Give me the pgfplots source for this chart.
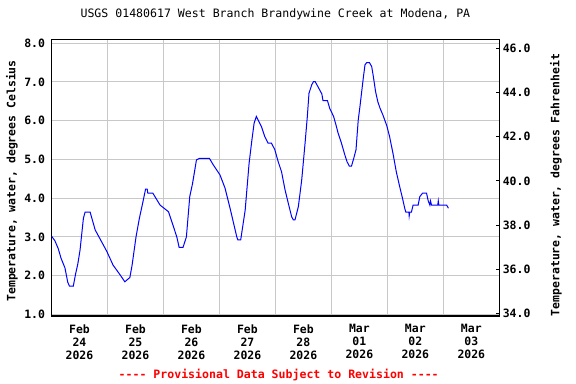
\documentclass[border=0pt]{standalone}
\usepackage{fontspec}
\setmainfont{DejaVu Sans Mono}
\usepackage{pgfplots}
\pgfplotsset{compat=1.18}
\definecolor{gridgray}{RGB}{200,200,200}
\begin{document}
\begin{tikzpicture}
\path[use as bounding box] (0,0) rectangle (576bp,384bp);
\begin{axis}[
  at={(51.5bp,68bp)}, anchor=south west,
  scale only axis, width=447.8bp, height=276.7bp,
  xmin=0, xmax=8, ymin=0.956, ymax=8.103,
  axis line style={line width=1.5bp, black},
  font=\fontsize{11.5}{13}\selectfont\bfseries,
  /pgf/number format/assume math mode=true,
  xtick={0.5,1.5,2.5,3.5,4.5,5.5,6.5,7.5},
  xticklabels={{Feb\\24\\2026},{Feb\\25\\2026},{Feb\\26\\2026},{Feb\\27\\2026},{Feb\\28\\2026},{Mar\\01\\2026},{Mar\\02\\2026},{Mar\\03\\2026}},
  xticklabel style={align=center, font=\fontsize{11.5}{13}\selectfont\bfseries, yshift=-5bp},
  minor xtick={1,2,3,4,5,6,7},
  xminorgrids=true,
  ytick={1,2,3,4,5,6,7,8},
  ymajorgrids=true,
  grid style={gridgray, line width=1bp},
  minor grid style={gridgray, line width=1bp},
  major tick length=0pt, minor tick length=0pt,
  yticklabel style={/pgf/number format/fixed, /pgf/number format/fixed zerofill, /pgf/number format/precision=1, font=\fontsize{11.5}{13}\selectfont\bfseries, xshift=-3bp},
  ylabel={Temperature, water, degrees Celsius},
  every axis y label/.style={at={(axis description cs:-0.0882,0.488)}, rotate=90, anchor=center, font=\fontsize{11.5}{13}\selectfont\bfseries},
  title={USGS 01480617 West Branch Brandywine Creek at Modena, PA},
  title style={at={(axis description cs:0.5,1.0698)}, anchor=center, font=\fontsize{11.6}{13}\selectfont\mdseries},
  clip=true,
]
\addplot[blue, line width=1bp] coordinates {
(0.00,3.02) (0.06,2.90) (0.12,2.70) (0.17,2.45) (0.24,2.20) (0.29,1.83) (0.32,1.73) (0.39,1.73)
(0.43,2.04) (0.47,2.30) (0.51,2.66) (0.57,3.48) (0.60,3.64) (0.69,3.64) (0.78,3.18) (0.87,2.94)
(0.99,2.62) (1.10,2.27) (1.22,2.03) (1.31,1.84) (1.40,1.95) (1.44,2.27) (1.51,3.00) (1.57,3.48)
(1.63,3.88) (1.68,4.23) (1.71,4.23) (1.72,4.13) (1.81,4.13) (1.94,3.82) (2.09,3.65) (2.18,3.26)
(2.24,2.99) (2.28,2.73) (2.35,2.73) (2.41,3.00) (2.47,4.04) (2.52,4.38) (2.59,4.99) (2.65,5.03)
(2.82,5.03) (2.89,4.86) (3.01,4.60) (3.10,4.26) (3.19,3.74) (3.31,3.00) (3.33,2.92) (3.38,2.92)
(3.46,3.69) (3.49,4.21) (3.53,4.90) (3.58,5.50) (3.62,5.94) (3.66,6.11) (3.75,5.85) (3.81,5.59)
(3.87,5.42) (3.93,5.42) (3.99,5.25) (4.05,4.94) (4.11,4.68) (4.17,4.23) (4.23,3.87) (4.29,3.52)
(4.32,3.44) (4.35,3.44) (4.41,3.78) (4.47,4.47) (4.53,5.42) (4.57,6.10) (4.60,6.71) (4.65,6.93)
(4.68,7.01) (4.71,7.01) (4.76,6.88) (4.83,6.69) (4.85,6.52) (4.93,6.52) (4.97,6.32) (5.04,6.11)
(5.09,5.85) (5.12,5.68) (5.18,5.42) (5.24,5.12) (5.28,4.94) (5.32,4.83) (5.36,4.83) (5.40,5.03)
(5.44,5.25) (5.48,6.02) (5.51,6.36) (5.57,7.10) (5.60,7.44) (5.63,7.50) (5.68,7.50) (5.72,7.40)
(5.75,7.14) (5.79,6.75) (5.83,6.49) (5.87,6.32) (5.92,6.15) (5.99,5.87) (6.04,5.59) (6.10,5.16)
(6.16,4.68) (6.22,4.30) (6.27,4.00) (6.31,3.74) (6.33,3.64) (6.385,3.64) (6.39,3.54) (6.40,3.64)
(6.43,3.64) (6.46,3.82) (6.55,3.82) (6.58,4.04) (6.63,4.13) (6.70,4.13) (6.73,3.93) (6.76,3.82)
(6.77,3.93) (6.79,3.82) (6.90,3.82) (6.91,3.93) (6.92,3.82) (7.06,3.82) (7.09,3.74)
};
\end{axis}
\begin{axis}[
  at={(51.5bp,68bp)}, anchor=south west,
  scale only axis, width=447.8bp, height=276.7bp,
  xmin=0, xmax=8, ymin=33.88, ymax=46.41,
  hide x axis,
  axis y line*=right,
  axis line style={line width=1.5bp, black},
  /pgf/number format/assume math mode=true,
  ytick={34,36,38,40,42,44,46},
  ytick align=inside,
  major tick length=3bp,
  tick style={black, line width=1bp},
  yticklabel style={/pgf/number format/fixed, /pgf/number format/fixed zerofill, /pgf/number format/precision=1, font=\fontsize{11.5}{13}\selectfont\bfseries, xshift=0bp},
  ylabel={Temperature, water, degrees Fahrenheit},
  every axis y label/.style={at={(axis description cs:1.1266,0.473)}, rotate=90, anchor=center, font=\fontsize{11.5}{13}\selectfont\bfseries},
]
\addplot[draw=none] coordinates {(0,40)};
\end{axis}
\node[red, font=\fontsize{11.6}{13}\selectfont\bfseries, anchor=center] at (278.7bp,9bp) {-{}-{}-{}- Provisional Data Subject to Revision -{}-{}-{}-};
\end{tikzpicture}
\end{document}
